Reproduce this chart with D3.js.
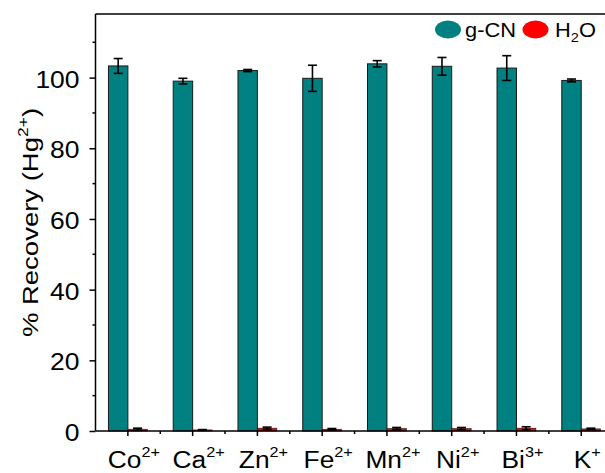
<!DOCTYPE html>
<html>
<head>
<meta charset="utf-8">
<script src="https://cdn.jsdelivr.net/npm/d3@7"></script>
<style>
  html, body { margin: 0; padding: 0; background: #fff; }
  svg { display: block; font-family: "Liberation Sans", Arial, sans-serif; }
</style>
</head>
<body>
<svg id="chart" width="605" height="473"></svg>
<script>
// Interfering ions and their charges
const ions = ["Co", "Ca", "Zn", "Fe", "Mn", "Ni", "Bi", "K"];
const charges = ["2+", "2+", "2+", "2+", "2+", "2+", "3+", "+"];

// % recovery of Hg2+ with g-CN and with water (mean and error)
const gcnRecovery = [103.3, 99.0, 102.0, 99.8, 103.9, 103.2, 102.7, 99.2];
const gcnError = [2.1, 0.8, 0.3, 3.7, 0.9, 2.5, 3.5, 0.4];
const waterRecovery = [0.5, 0.3, 0.8, 0.5, 0.7, 0.7, 0.8, 0.6];
const waterError = [0.3, 0.1, 0.3, 0.2, 0.3, 0.3, 0.4, 0.2];

const yMajorTicks = [0, 20, 40, 60, 80, 100];
const yMinorTicks = [10, 30, 50, 70, 90, 110];

const seriesNames = ["g-CN", "H", "2", "O"];
const colors = { gcn: "#008080", water: "#ff0000" };

// the figure's text is slightly widened along its baseline
const tickStretch = 1.15, labelStretch = 1.12, titleStretch = 1.25;

const svg = d3.select("#chart");

const plotLeft = 95.5, plotRight = 613.6, plotTop = 14, plotBottom = 431;
const x = d3.scaleLinear().domain([0.5, ions.length + 0.5]).range([plotLeft, plotRight]);
const y = d3.scaleLinear().domain([0, 118]).range([plotBottom, plotTop]);
const barW = x(1.3) - x(1);

const plot = svg.append("g");

// g-CN bars (left of each category centre)
plot.selectAll("rect.gcn").data(gcnRecovery).join("rect")
  .attr("class", "gcn")
  .attr("x", (d, i) => x(i + 1) - barW)
  .attr("y", d => y(d))
  .attr("width", barW)
  .attr("height", d => y(0) - y(d))
  .attr("fill", colors.gcn)
  .attr("stroke", "#1a1a1a")
  .attr("stroke-width", 1);

// water bars (right of each category centre)
plot.selectAll("rect.water").data(waterRecovery).join("rect")
  .attr("class", "water")
  .attr("x", (d, i) => x(i + 1))
  .attr("y", d => y(d))
  .attr("width", barW)
  .attr("height", d => y(0) - y(d))
  .attr("fill", colors.water)
  .attr("stroke", "#1a1a1a")
  .attr("stroke-width", 0.6);

// error bars
function errorBars(values, errors, offset) {
  const g = plot.append("g").attr("stroke", "#000").attr("stroke-width", 1.6).attr("fill", "none");
  values.forEach((v, i) => {
    const cx = x(i + 1) + offset;
    const hi = y(v + errors[i]), lo = y(v - errors[i]);
    const cap = 4.5;
    g.append("line").attr("x1", cx).attr("x2", cx).attr("y1", hi).attr("y2", lo);
    g.append("line").attr("x1", cx - cap).attr("x2", cx + cap).attr("y1", hi).attr("y2", hi);
    g.append("line").attr("x1", cx - cap).attr("x2", cx + cap).attr("y1", lo).attr("y2", lo);
  });
}
errorBars(gcnRecovery, gcnError, -barW / 2);
errorBars(waterRecovery, waterError, barW / 2);

// frame
const axisColor = "#000";
svg.append("line").attr("x1", plotLeft).attr("x2", 605).attr("y1", plotTop).attr("y2", plotTop)
  .attr("stroke", axisColor).attr("stroke-width", 1.5);
svg.append("line").attr("x1", plotLeft).attr("x2", plotLeft).attr("y1", plotTop).attr("y2", plotBottom)
  .attr("stroke", axisColor).attr("stroke-width", 1.5);
svg.append("line").attr("x1", plotLeft).attr("x2", plotRight).attr("y1", plotBottom).attr("y2", plotBottom)
  .attr("stroke", axisColor).attr("stroke-width", 1.5);

// y axis ticks and labels
const yAxisG = svg.append("g").attr("transform", `translate(${plotLeft},0)`);
yAxisG.call(d3.axisLeft(y).tickValues(yMajorTicks).tickSize(6).tickFormat(d3.format("d")));
yAxisG.select(".domain").remove();
yAxisG.selectAll(".tick line").attr("stroke", axisColor).attr("stroke-width", 1.5);
yAxisG.selectAll(".tick text")
  .attr("font-size", 23).attr("fill", "#000")
  .attr("font-family", "'Liberation Sans', Arial, sans-serif")
  .attr("transform", `scale(${tickStretch},1)`)
  .attr("x", -16 / tickStretch)
  .attr("dy", "0.41em");
yAxisG.selectAll("line.minor").data(yMinorTicks).join("line")
  .attr("class", "minor")
  .attr("x1", -3).attr("x2", 0)
  .attr("y1", d => y(d)).attr("y2", d => y(d))
  .attr("stroke", axisColor).attr("stroke-width", 1.5);

// x axis ticks: majors at category centres, minors between
const xMajor = ions.map((d, i) => i + 1);
const xMinor = ions.map((d, i) => i + 1.5);
svg.selectAll("line.xmajor").data(xMajor).join("line")
  .attr("class", "xmajor")
  .attr("x1", d => x(d)).attr("x2", d => x(d))
  .attr("y1", plotBottom).attr("y2", plotBottom + 5)
  .attr("stroke", axisColor).attr("stroke-width", 1.5);
svg.selectAll("line.xminor").data(xMinor).join("line")
  .attr("class", "xminor")
  .attr("x1", d => x(d)).attr("x2", d => x(d))
  .attr("y1", plotBottom).attr("y2", plotBottom + 3)
  .attr("stroke", axisColor).attr("stroke-width", 1.5);

// category labels with charge superscripts
const xLabels = svg.selectAll("g.xlab").data(ions).join("g")
  .attr("class", "xlab")
  .attr("transform", (d, i) => `translate(${x(i + 1) + 6},468)`)
  .append("text")
  .attr("transform", `scale(${labelStretch},1)`)
  .attr("text-anchor", "middle")
  .attr("font-size", 23.5)
  .attr("fill", "#000");
xLabels.append("tspan").text(d => d);
xLabels.append("tspan").attr("dy", -11).attr("font-size", 14.5).text((d, i) => charges[i]);

// y axis title
const yTitle = svg.append("g")
  .attr("transform", `translate(38,${(plotTop + plotBottom) / 2}) rotate(-90)`)
  .append("text")
  .attr("transform", `scale(${titleStretch},1)`)
  .attr("text-anchor", "middle")
  .attr("font-size", 22)
  .attr("fill", "#000");
yTitle.append("tspan").text("% Recovery (Hg");
yTitle.append("tspan").attr("dy", -10).attr("font-size", 14).text("2+");
yTitle.append("tspan").attr("dy", 10).text(")");

// legend
const legend = svg.append("g");
legend.append("ellipse").attr("cx", 448).attr("cy", 29.5).attr("rx", 13).attr("ry", 9).attr("fill", colors.gcn);
legend.append("g").attr("transform", "translate(465,36.5)")
  .append("text").attr("transform", `scale(${labelStretch},1)`)
  .attr("font-size", 19.5).attr("fill", "#000").text(seriesNames[0]);
legend.append("ellipse").attr("cx", 535.5).attr("cy", 29.5).attr("rx", 13).attr("ry", 9).attr("fill", colors.water);
const h2o = legend.append("g").attr("transform", "translate(555,36.5)")
  .append("text").attr("transform", `scale(${labelStretch},1)`)
  .attr("font-size", 19.5).attr("fill", "#000");
h2o.append("tspan").text(seriesNames[1]);
h2o.append("tspan").attr("dy", 5.5).attr("font-size", 13).text(seriesNames[2]);
h2o.append("tspan").attr("dy", -5.5).text(seriesNames[3]);
</script>
</body>
</html>
